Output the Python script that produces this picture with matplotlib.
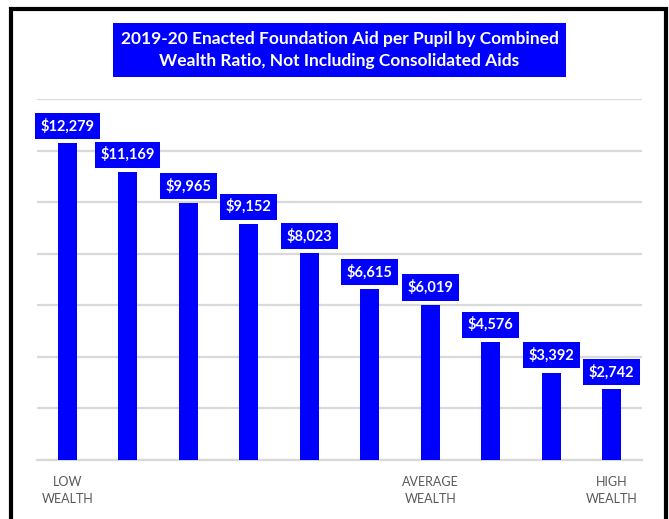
import numpy as np
import matplotlib.pyplot as plt
from matplotlib.patches import Rectangle

# Foundation Aid per pupil, grouped by combined wealth ratio (low -> high)
aid_per_pupil = [12279, 11169, 9965, 9152, 8023, 6615, 6019, 4576, 3392, 2742]
tick_text = ["LOW\nWEALTH", "", "", "", "", "", "AVERAGE\nWEALTH", "", "", "HIGH\nWEALTH"]
title = ("2019-20 Enacted Foundation Aid per Pupil by Combined\n"
         "Wealth Ratio, Not Including Consolidated Aids")

BLUE = "#0000FF"
GRID = "#D9D9D9"
plt.rcParams["font.family"] = ["Lato", "DejaVu Sans"]

W, H = 669, 519
fig = plt.figure(figsize=(W / 100, H / 100), dpi=100)

# axes box in pixel terms: x 37..642, y 99..460 from top
ax = fig.add_axes([37 / W, 1 - 460 / H, (642 - 37) / W, (460 - 99) / H])
x = np.arange(len(aid_per_pupil))
bars = ax.bar(x, aid_per_pupil, width=0.31, color=BLUE, zorder=3)

ax.set_xlim(-0.5, len(aid_per_pupil) - 0.5)
ax.set_ylim(0, 14000)
ax.set_yticks(np.arange(0, 14001, 2000))
ax.yaxis.grid(True, color=GRID, linewidth=1.6)
ax.set_axisbelow(True)
for side in ["top", "right", "left"]:
    ax.spines[side].set_visible(False)
ax.spines["bottom"].set_color(GRID)
ax.spines["bottom"].set_linewidth(1.6)
ax.tick_params(axis="y", left=False, labelleft=False)
ax.tick_params(axis="x", bottom=False, pad=8)
ax.set_xticks(x)
ax.set_xticklabels(tick_text, color="#595959", fontsize=9, linespacing=1.5)

for xi, v in zip(x, aid_per_pupil):
    ax.annotate(f"${v:,}", (xi, v), xytext=(0, 7), textcoords="offset points",
                ha="center", va="bottom", color="white", fontsize=10.5,
                fontweight="bold", zorder=4,
                bbox=dict(boxstyle="square,pad=0.38", fc=BLUE, ec="none"))

fig.text(339.5 / W, 1 - 50 / H, title, ha="center", va="center",
         color="white", fontsize=12.5, fontweight="bold", linespacing=1.45,
         bbox=dict(boxstyle="square,pad=0.45", fc=BLUE, ec="none"))

# outer chart frame (bottom edge runs off the image)
fig.patches.append(Rectangle((11 / W, -0.05), (666 - 11) / W, 1.05 - 9 / H,
                             transform=fig.transFigure, fill=False,
                             ec="black", lw=3))

fig.savefig("out.png", dpi=100)
